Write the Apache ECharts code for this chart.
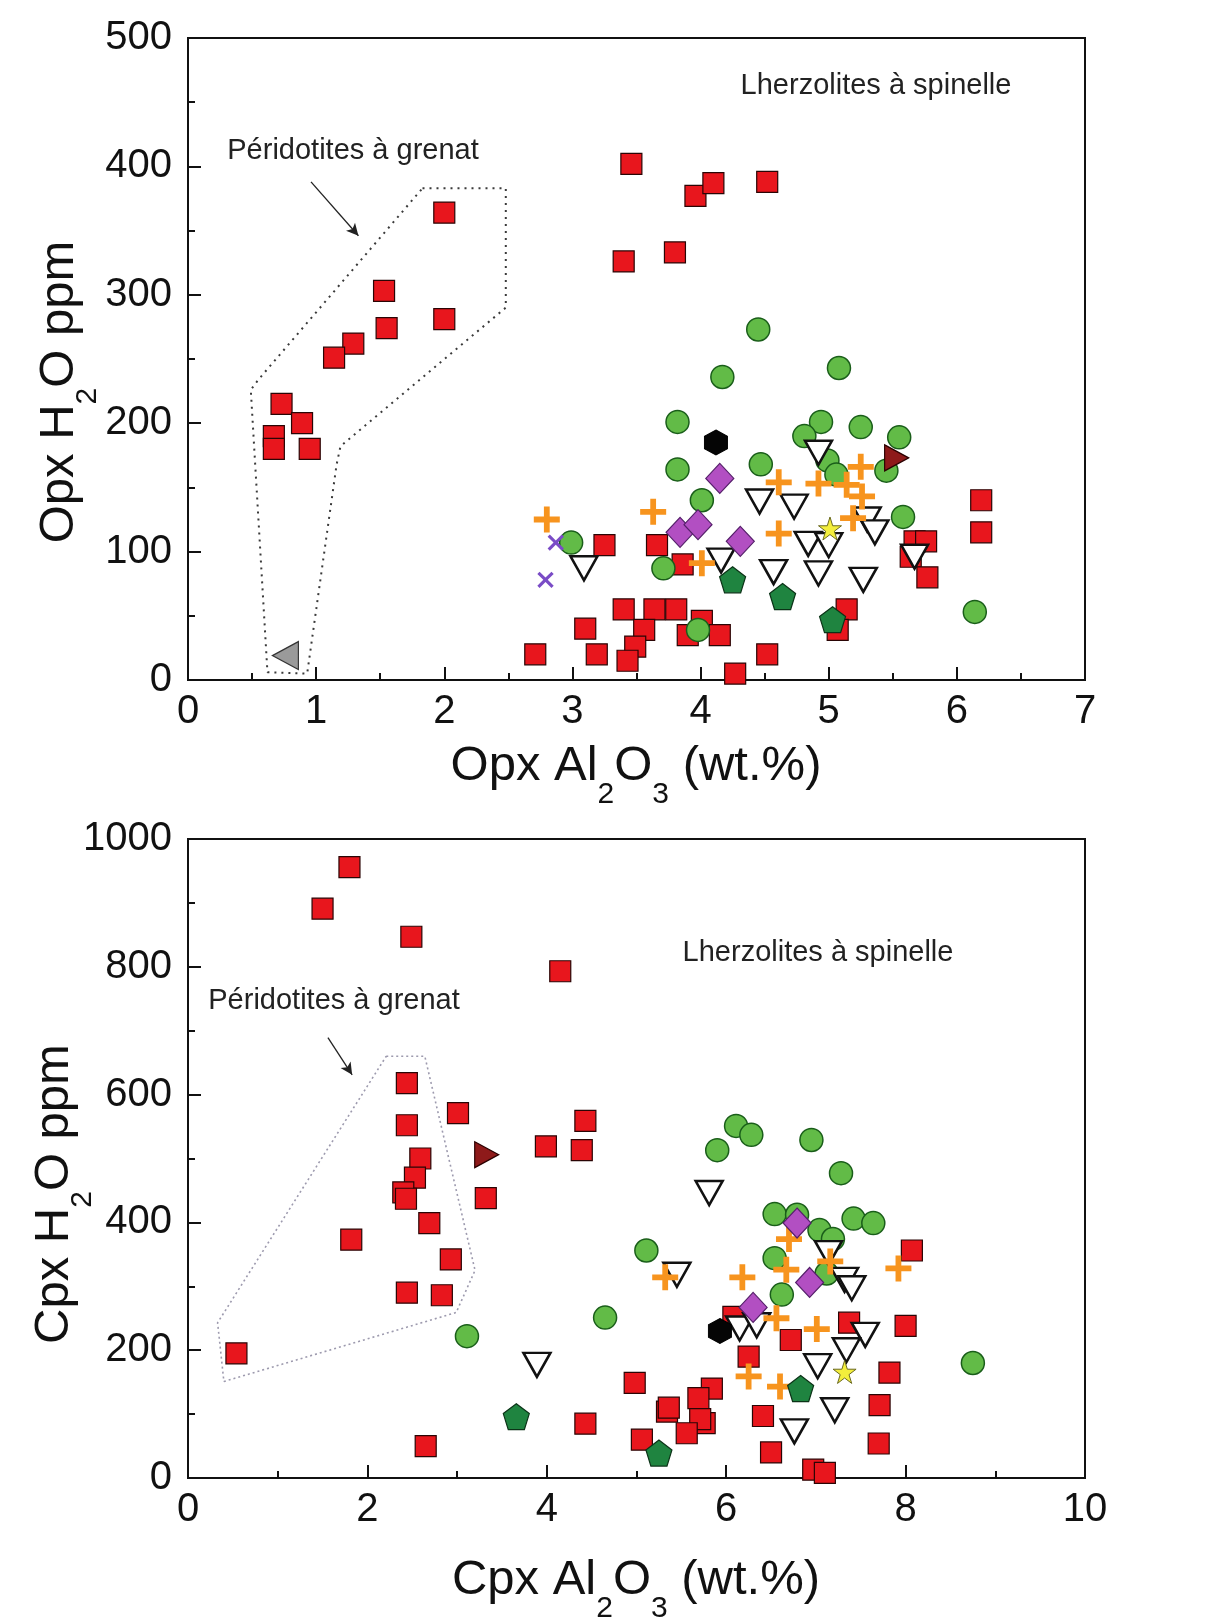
<!DOCTYPE html>
<html>
<head>
<meta charset="utf-8">
<script src="https://cdn.jsdelivr.net/npm/echarts@6/dist/echarts.min.js"></script>
<style>
html,body{margin:0;padding:0;background:#fff;}
#c{width:1207px;height:1618px;}
</style>
</head>
<body>
<div id="c"></div>
<script>
// ---------- Top chart: Opx Al2O3 (wt.%) vs Opx H2O ppm ----------
const opxXTicks = [0, 1, 2, 3, 4, 5, 6, 7];
const opxYTicks = [0, 100, 200, 300, 400, 500];
const opxRedSquares = [
  [2.00, 364], [1.53, 303], [1.55, 274], [2.00, 281], [1.29, 262], [1.14, 251],
  [0.73, 215], [0.89, 200], [0.67, 190], [0.67, 180], [0.95, 180],
  [3.46, 402], [3.96, 377], [4.10, 387], [4.52, 388], [3.40, 326], [3.80, 333],
  [3.25, 105], [3.66, 105], [3.86, 90], [6.19, 140], [6.19, 115], [5.67, 108],
  [5.76, 108], [5.64, 96], [5.77, 80],
  [2.71, 20], [3.10, 40], [3.19, 20], [3.40, 55], [3.64, 55], [3.81, 55],
  [3.56, 39], [3.49, 26], [3.43, 15], [4.01, 46], [3.90, 35], [4.15, 35],
  [4.27, 5], [4.52, 20], [5.14, 55], [5.07, 39]
];
const opxGreenCircles = [
  [4.45, 273], [4.17, 236], [5.08, 243], [3.82, 201], [4.94, 201], [4.81, 190],
  [5.25, 197], [5.55, 189], [3.82, 164], [4.99, 171], [5.06, 160], [5.45, 163],
  [4.47, 168], [4.01, 140], [5.58, 127], [2.99, 107], [3.71, 87], [3.98, 39], [6.14, 53]
];
const opxOpenTriangles = [
  [3.09, 87], [4.46, 139], [4.73, 135], [4.92, 177], [4.16, 93], [4.57, 84],
  [4.84, 106], [5.00, 105], [4.92, 83], [5.27, 78], [5.30, 125], [5.36, 115], [5.67, 96]
];
const opxOrangePlus = [
  [2.80, 125], [3.63, 131], [4.61, 154], [4.92, 153], [5.25, 166], [5.14, 152],
  [5.26, 143], [5.19, 126], [4.61, 114], [4.01, 91]
];
const opxPurpleDiamonds = [[4.15, 157], [3.84, 115], [3.98, 121], [4.31, 108]];
const opxPurpleCross = [[2.87, 107], [2.79, 78]];
const opxBlackHexagon = [[4.12, 185]];
const opxGreenPentagons = [[4.25, 78], [4.64, 65], [5.03, 47]];
const opxYellowStar = [[5.01, 118]];
const opxDarkRedTriangle = [[5.53, 173]];
const opxGreyTriangle = [[0.76, 19]];
const opxGarnetField = [
  [1.83, 383], [2.48, 383], [2.48, 290], [1.19, 182], [1.16, 168], [0.93, 5],
  [0.62, 6], [0.49, 226], [0.55, 234], [1.83, 383]
];
const opxArrow = [[0.96, 388], [1.33, 346]];

// ---------- Bottom chart: Cpx Al2O3 (wt.%) vs Cpx H2O ppm ----------
const cpxXTicks = [0, 2, 4, 6, 8, 10];
const cpxYTicks = [0, 200, 400, 600, 800, 1000];
const cpxRedSquares = [
  [1.80, 956], [1.50, 891], [2.49, 847], [4.15, 793], [2.44, 618], [3.01, 571],
  [2.44, 552], [4.43, 559], [3.99, 519], [4.39, 513], [2.59, 500], [2.53, 470],
  [2.40, 447], [2.43, 437], [3.32, 438], [2.69, 399], [1.82, 373], [2.93, 342],
  [2.44, 290], [2.83, 286], [0.54, 195], [2.65, 50],
  [4.98, 149], [4.43, 85], [5.34, 104], [5.36, 110], [5.84, 140], [5.69, 125],
  [5.76, 86], [5.71, 92], [5.56, 70], [5.06, 60], [6.41, 97], [6.50, 40],
  [6.25, 190], [6.72, 216], [6.97, 13], [7.10, 8], [8.07, 356], [8.00, 238],
  [7.37, 243], [7.82, 165], [7.71, 114], [7.70, 54], [6.08, 252]
];
const cpxGreenCircles = [
  [6.11, 551], [6.28, 537], [5.90, 513], [6.95, 529], [7.28, 477], [5.11, 356],
  [4.65, 251], [3.11, 222], [6.54, 413], [6.79, 412], [7.04, 388], [7.19, 374],
  [7.42, 406], [7.64, 399], [6.54, 344], [7.12, 320], [6.62, 287], [8.75, 180]
];
const cpxOpenTriangles = [
  [5.81, 446], [5.45, 318], [7.14, 352], [7.32, 310], [7.40, 297], [6.15, 234],
  [6.34, 239], [7.55, 224], [7.34, 200], [7.02, 175], [7.21, 106], [6.76, 73], [3.89, 177]
];
const cpxOrangePlus = [
  [6.70, 374], [5.32, 314], [6.18, 314], [6.67, 326], [7.16, 339], [7.92, 328],
  [6.56, 250], [7.01, 233], [6.25, 159], [6.60, 143]
];
const cpxPurpleDiamonds = [[6.79, 399], [6.93, 306], [6.30, 267]];
const cpxBlackHexagon = [[5.93, 230]];
const cpxGreenPentagons = [[6.83, 140], [5.25, 39], [3.66, 96]];
const cpxYellowStar = [[7.32, 166]];
const cpxDarkRedTriangle = [[3.33, 506]];
const cpxGarnetField = [
  [2.21, 660], [2.64, 660], [3.20, 325], [2.99, 259], [0.40, 151], [0.33, 243], [2.21, 660]
];
const cpxArrow = [[1.56, 689], [1.83, 631]];

// ---------- styles ----------
const FONT = 'Liberation Sans, Arial, sans-serif';
const PLUS = 'path://M7,0H11V7H18V11H11V18H7V11H0V7H7Z';
const XMARK = 'path://M8,0H11V8H19V11H11V19H8V11H0V8H8Z';
const HEX = 'path://M50,0L93.3,25L93.3,75L50,100L6.7,75L6.7,25Z';
const PENT = 'path://M50,0L97.55,34.55L79.39,90.45L20.61,90.45L2.45,34.55Z';
const STAR = 'path://M50,0L61.23,34.55L97.55,34.55L68.17,55.9L79.39,90.45L50,69.1L20.61,90.45L31.83,55.9L2.45,34.55L38.77,34.55Z';

function scat(data, gi, opts) {
  const s = Object.assign({
    type: 'scatter', xAxisIndex: gi, yAxisIndex: gi, data: data,
    silent: true, animation: false
  }, opts);
  s.itemStyle = Object.assign({opacity: 1}, s.itemStyle);
  return s;
}

function chartSeries(gi, d) {
  return [
    {
      type: 'line', xAxisIndex: gi, yAxisIndex: gi, data: d.field, symbol: 'none',
      silent: true, animation: false, z: 1,
      lineStyle: gi === 0 ? {color: '#3a3a3a', width: 2, type: [2, 5]} : {color: '#9d9aae', width: 1.6, type: [2, 3]},
      markLine: {
        silent: true, animation: false, symbol: ['none', 'arrow'], symbolSize: [9, 12],
        label: {show: false},
        lineStyle: {color: '#222', width: 1.3, type: 'solid'},
        data: [[{coord: d.arrow[0]}, {coord: d.arrow[1]}]]
      }
    },
    scat(d.sq, gi, {symbol: 'rect', symbolSize: 21, z: 2,
      itemStyle: {color: '#e8161d', borderColor: '#2a0505', borderWidth: 1.2}}),
    scat(d.gc, gi, {symbol: 'circle', symbolSize: 23, z: 3,
      itemStyle: {color: '#62bb47', borderColor: '#1a5e1a', borderWidth: 1.5}}),
    scat(d.tri, gi, {symbol: 'triangle', symbolRotate: 180, symbolSize: [27, 24], z: 4,
      itemStyle: {color: '#ffffff', borderColor: '#111', borderWidth: 2.5}}),
    scat(d.plus, gi, {symbol: PLUS, symbolSize: 26, z: 5,
      itemStyle: {color: '#f7941e'}}),
    scat(d.dia, gi, {symbol: 'diamond', symbolSize: [28, 30], z: 6,
      itemStyle: {color: '#b24fc2', borderColor: '#55206a', borderWidth: 1.2}}),
    scat(d.xm || [], gi, {symbol: XMARK, symbolRotate: 45, symbolSize: 20, z: 6,
      itemStyle: {color: '#7a4cc6'}}),
    scat(d.hex, gi, {symbol: HEX, symbolSize: [23, 25], z: 6,
      itemStyle: {color: '#050505', borderColor: '#000', borderWidth: 1}}),
    scat(d.pent, gi, {symbol: PENT, symbolSize: 26, z: 7,
      itemStyle: {color: '#1f8440', borderColor: '#0b3317', borderWidth: 1.2}}),
    scat(d.star, gi, {symbol: STAR, symbolSize: 23, z: 8,
      itemStyle: {color: '#f3ee3c', borderColor: '#6b6a20', borderWidth: 1}}),
    scat(d.drt, gi, {symbol: 'triangle', symbolRotate: -90, symbolSize: [26, 24], z: 8,
      itemStyle: {color: '#8e1a1a', borderColor: '#2a0000', borderWidth: 1.2}}),
    scat(d.grey || [], gi, {symbol: 'triangle', symbolRotate: 90, symbolSize: [28, 26], z: 8,
      itemStyle: {color: '#9a9a9a', borderColor: '#333', borderWidth: 1.2}})
  ];
}

function axisCommon(min, max, interval, isX) {
  return {
    type: 'value', min: min, max: max, interval: interval,
    axisLine: {show: true, onZero: false, lineStyle: {color: '#111', width: 2}},
    axisTick: {show: true, inside: true, length: 13, lineStyle: {color: '#111', width: 2}},
    minorTick: {show: true, splitNumber: 2, length: 7, lineStyle: {color: '#111', width: 2}},
    splitLine: {show: false},
    minorSplitLine: {show: false},
    axisLabel: {fontSize: 40, color: '#111', fontFamily: FONT, margin: isX ? 12 : 16,
      formatter: function (v) { return String(v); }}
  };
}

const richMain = {fontSize: 49, fontFamily: FONT, fill: '#111', lineHeight: 68, verticalAlign: 'top'};
const richSub = {fontSize: 30, fontFamily: FONT, fill: '#111', lineHeight: 68, verticalAlign: 'bottom'};
function title(x, y, text, rot) {
  return {
    type: 'text', x: x, y: y, rotation: rot || 0, silent: true,
    style: {text: text, align: 'center', verticalAlign: 'middle', fill: '#111',
      font: '49px ' + FONT, rich: {t: richMain, s: richSub}}
  };
}
function note(x, y, text) {
  return {
    type: 'text', x: x, y: y, silent: true,
    style: {text: text, align: 'center', verticalAlign: 'middle', fill: '#222',
      font: '29px ' + FONT}
  };
}

const chart = echarts.init(document.getElementById('c'), null, {renderer: 'canvas'});
chart.setOption({
  backgroundColor: '#ffffff',
  animation: false,
  grid: [
    {left: 188, top: 38, width: 897, height: 642, show: true, borderColor: '#111', borderWidth: 2, backgroundColor: 'transparent'},
    {left: 188, top: 839, width: 897, height: 639, show: true, borderColor: '#111', borderWidth: 2, backgroundColor: 'transparent'}
  ],
  xAxis: [
    Object.assign(axisCommon(opxXTicks[0], opxXTicks[opxXTicks.length - 1], opxXTicks[1] - opxXTicks[0], true), {gridIndex: 0}),
    Object.assign(axisCommon(cpxXTicks[0], cpxXTicks[cpxXTicks.length - 1], cpxXTicks[1] - cpxXTicks[0], true), {gridIndex: 1})
  ],
  yAxis: [
    Object.assign(axisCommon(opxYTicks[0], opxYTicks[opxYTicks.length - 1], opxYTicks[1] - opxYTicks[0], false), {gridIndex: 0}),
    Object.assign(axisCommon(cpxYTicks[0], cpxYTicks[cpxYTicks.length - 1], cpxYTicks[1] - cpxYTicks[0], false), {gridIndex: 1})
  ],
  series: [].concat(
    chartSeries(0, {field: opxGarnetField, arrow: opxArrow, sq: opxRedSquares, gc: opxGreenCircles,
      tri: opxOpenTriangles, plus: opxOrangePlus, dia: opxPurpleDiamonds, xm: opxPurpleCross,
      hex: opxBlackHexagon, pent: opxGreenPentagons, star: opxYellowStar, drt: opxDarkRedTriangle,
      grey: opxGreyTriangle}),
    chartSeries(1, {field: cpxGarnetField, arrow: cpxArrow, sq: cpxRedSquares, gc: cpxGreenCircles,
      tri: cpxOpenTriangles, plus: cpxOrangePlus, dia: cpxPurpleDiamonds,
      hex: cpxBlackHexagon, pent: cpxGreenPentagons, star: cpxYellowStar, drt: cpxDarkRedTriangle})
  ),
  graphic: [
    title(636, 776, '{t|Opx Al}{s|2}{t|O}{s|3}{t| (wt.%)}'),
    title(69, 392, '{t|Opx H}{s|2}{t|O ppm}', Math.PI / 2),
    title(636, 1590, '{t|Cpx Al}{s|2}{t|O}{s|3}{t| (wt.%)}'),
    title(64, 1194, '{t|Cpx H}{s|2}{t|O ppm}', Math.PI / 2),
    note(876, 86, 'Lherzolites à spinelle'),
    note(353, 151, 'Péridotites à grenat'),
    note(818, 953, 'Lherzolites à spinelle'),
    note(334, 1001, 'Péridotites à grenat')
  ]
});
</script>
</body>
</html>
